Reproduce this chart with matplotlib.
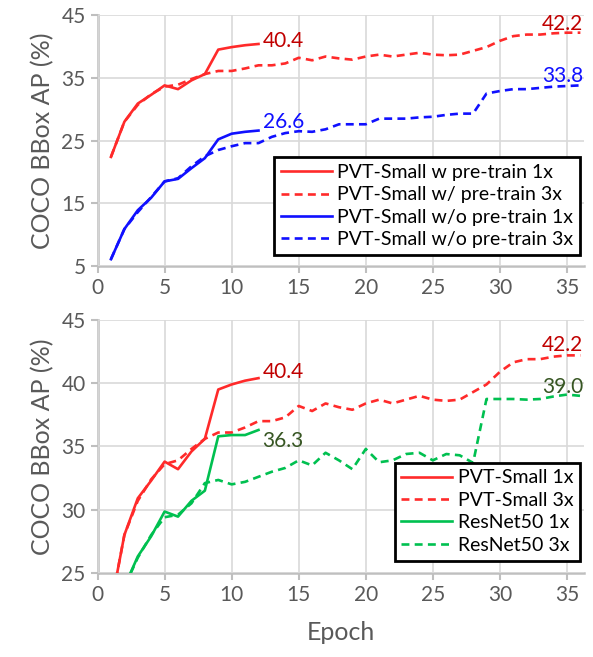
import matplotlib
matplotlib.use('Agg')
import matplotlib.pyplot as plt

plt.rcParams['font.family'] = ['Lato', 'DejaVu Sans']

# epochs
ep_1x = list(range(1, 13))
ep_3x = list(range(1, 37))

# PVT-Small w/ pre-train
pvt_1x = [22.4, 28.0, 30.9, 32.3, 33.8, 33.2, 34.6, 35.6, 39.5, 39.9, 40.2, 40.4]
pvt_3x = [22.4, 28.0, 30.7, 32.4, 33.6, 33.9, 34.8, 35.6, 36.1, 36.1, 36.5, 37.0,
          37.0, 37.3, 38.2, 37.8, 38.4, 38.1, 37.9, 38.4, 38.7, 38.4, 38.7, 39.0,
          38.7, 38.6, 38.7, 39.3, 39.9, 40.9, 41.65, 41.9, 41.9, 42.1, 42.2, 42.2]

# PVT-Small w/o pre-train
scratch_1x = [6.1, 10.9, 13.9, 15.9, 18.5, 18.9, 20.6, 22.2, 25.2, 26.1, 26.4, 26.6]
scratch_3x = [6.1, 10.9, 13.6, 16.0, 18.5, 19.0, 20.9, 22.5, 23.5, 24.1, 24.6, 24.6,
              25.6, 26.2, 26.5, 26.4, 26.8, 27.6, 27.6, 27.6, 28.5, 28.5, 28.5, 28.7,
              28.8, 29.1, 29.3, 29.3, 32.5, 32.9, 33.2, 33.2, 33.4, 33.6, 33.7, 33.8]

# ResNet50
r50_1x = [20.0, 23.9, 26.3, 27.9, 29.85, 29.45, 30.7, 31.5, 35.8, 35.9, 35.9, 36.3]
r50_3x = [20.0, 23.9, 26.2, 28.0, 29.4, 29.6, 30.5, 32.1, 32.35, 32.0, 32.2, 32.6,
          33.0, 33.3, 33.9, 33.5, 34.5, 33.9, 33.2, 34.8, 33.75, 33.9, 34.4, 34.5,
          33.9, 34.4, 34.3, 33.7, 38.75, 38.75, 38.75, 38.7, 38.75, 38.95, 39.1, 39.0]

RED = '#FF2A2A'
BLUE = '#1010FF'
GREEN = '#00C050'
GREY = '#595959'

fig = plt.figure(figsize=(5.93, 6.57), dpi=100)
ax1 = fig.add_axes([0.1645, 0.595, 0.821, 0.382])
ax2 = fig.add_axes([0.1645, 0.128, 0.821, 0.385])


def style(ax, ylim, yticks):
    ax.set_xlim(0, 36.3)
    ax.set_ylim(*ylim)
    ax.set_xticks(range(0, 36, 5))
    ax.set_yticks(yticks)
    ax.grid(True, color='#D9D9D9', lw=1.2)
    ax.set_axisbelow(True)
    for s in ['top', 'right']:
        ax.spines[s].set_visible(False)
    for s in ['left', 'bottom']:
        ax.spines[s].set_color('#BFBFBF')
        ax.spines[s].set_linewidth(1.8)
        ax.spines[s].set_zorder(0.5)
    ax.tick_params(colors='#BFBFBF', labelcolor=GREY, labelsize=15,
                   width=1.5, length=5)
    ax.set_ylabel('COCO BBox AP (%)', fontsize=18, color=GREY, labelpad=5)


lw = 1.9
ds = (3, 2)
leg_kw = dict(fontsize=14, handlelength=2.6, labelspacing=0.28, handletextpad=0.3,
              borderpad=0.35, fancybox=False, framealpha=1, edgecolor='black')

style(ax1, (5, 45), [5, 15, 25, 35, 45])
ax1.plot(ep_1x, pvt_1x, color=RED, lw=lw, label='PVT-Small w pre-train 1x')
ax1.plot(ep_3x, pvt_3x, color=RED, lw=lw, dashes=ds, label='PVT-Small w/ pre-train 3x')
ax1.plot(ep_1x, scratch_1x, color=BLUE, lw=lw, label='PVT-Small w/o pre-train 1x')
ax1.plot(ep_3x, scratch_3x, color=BLUE, lw=lw, dashes=ds, label='PVT-Small w/o pre-train 3x')
ax1.text(12.3, pvt_1x[-1] + 0.5, f'{pvt_1x[-1]:.1f}', color='#C00000', fontsize=15, va='center')
ax1.text(12.3, scratch_1x[-1] + 1.3, f'{scratch_1x[-1]:.1f}', color=BLUE, fontsize=15, va='center')
ax1.text(36.2, pvt_3x[-1] + 1.45, f'{pvt_3x[-1]:.1f}', color='#C00000', fontsize=15, va='center', ha='right')
ax1.text(36.2, scratch_3x[-1] + 1.5, f'{scratch_3x[-1]:.1f}', color=BLUE, fontsize=15, va='center', ha='right')
leg1 = ax1.legend(loc='lower right', bbox_to_anchor=(0.995, 0.597),
                  bbox_transform=fig.transFigure, **leg_kw)
leg1.get_frame().set_linewidth(2)

style(ax2, (25, 45), [25, 30, 35, 40, 45])
ax2.plot(ep_1x, pvt_1x, color=RED, lw=lw, label='PVT-Small 1x')
ax2.plot(ep_3x, pvt_3x, color=RED, lw=lw, dashes=ds, label='PVT-Small 3x')
ax2.plot(ep_1x, r50_1x, color=GREEN, lw=lw, label='ResNet50 1x')
ax2.plot(ep_3x, r50_3x, color=GREEN, lw=lw, dashes=ds, label='ResNet50 3x')
ax2.text(12.3, pvt_1x[-1] + 0.5, f'{pvt_1x[-1]:.1f}', color='#C00000', fontsize=15, va='center')
ax2.text(12.3, r50_1x[-1] - 0.85, f'{r50_1x[-1]:.1f}', color='#375623', fontsize=15, va='center')
ax2.text(36.2, pvt_3x[-1] + 0.8, f'{pvt_3x[-1]:.1f}', color='#C00000', fontsize=15, va='center', ha='right')
ax2.text(36.2, r50_3x[-1] + 0.7, f'{r50_3x[-1]:.1f}', color='#375623', fontsize=15, va='center', ha='right')
leg2 = ax2.legend(loc='lower right', bbox_to_anchor=(0.995, 0.132),
                  bbox_transform=fig.transFigure, **leg_kw)
leg2.get_frame().set_linewidth(2)
ax2.set_xlabel('Epoch', fontsize=18, color=GREY, labelpad=12)

fig.savefig('out.png', dpi=100)
